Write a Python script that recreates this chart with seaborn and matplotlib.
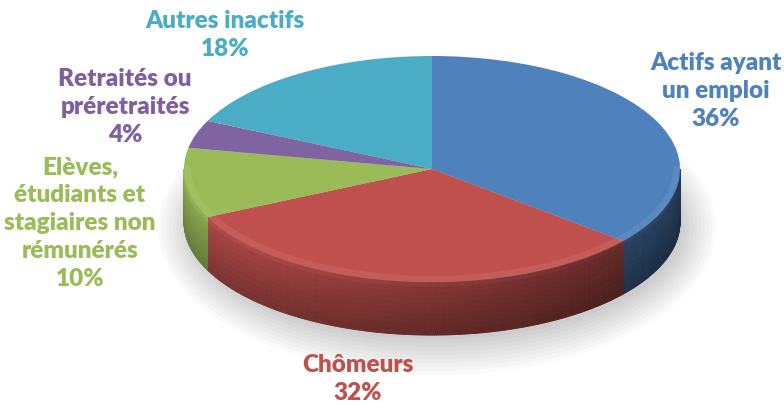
import numpy as np
import matplotlib
matplotlib.use("Agg")
import matplotlib.pyplot as plt
import seaborn as sns
from matplotlib.colors import to_rgb
from matplotlib.collections import PolyCollection
from matplotlib.patches import Ellipse

# data
labels = ["Actifs ayant\nun emploi", "Chômeurs",
          "Elèves,\nétudiants et\nstagiaires non\nrémunérés",
          "Retraités ou\npréretraités", "Autres inactifs"]
shares = [36, 32, 10, 4, 18]
colors = ["#4F81BD", "#C0504D", "#9BBB59", "#8064A2", "#4BACC6"]
text_colors = ["#4F81BD", "#C0504D", "#9BBB59", "#7F5FA0", "#4BACC6"]
# label centres in pixels (x, y from top)
label_pos = [(716, 91), (358, 379), (80, 223), (125, 107), (225, 35)]

W, H = 784, 406
CX, CY = 432, 170    # pie centre in px
RX, RY = 248, 113    # ellipse semi-axes in px
DEPTH = 0.47         # side height in y units

sns.set_theme(style="white")
plt.rcParams['font.family'] = ['Lato', 'DejaVu Sans']

fig = plt.figure(figsize=(W / 100, H / 100), dpi=100)
ax = fig.add_axes([0, 0, 1, 1])

# soft shadow under the pie
for k in range(10):
    ax.add_patch(Ellipse((0.02, -DEPTH - 0.05), 1.98 + 0.03 * k, 1.98 + 0.07 * k,
                         color="#000000", alpha=0.018, lw=0, zorder=0))

# top face
ax.pie(shares, colors=colors, startangle=90, counterclock=False, radius=1,
       wedgeprops=dict(linewidth=0, zorder=3))

# side wall, shaded strips for the front half
bounds = 90 - 360 * np.cumsum([0] + shares) / sum(shares)
polys, fcs = [], []
nv = 10
for i in range(len(shares)):
    lo, hi = max(bounds[i + 1], -180), min(bounds[i], 0)
    if lo >= hi:
        continue
    th = np.radians(np.linspace(lo, hi, int((hi - lo) * 2) + 2))
    base = np.array(to_rgb(colors[i]))
    for t0, t1 in zip(th[:-1], th[1:]):
        tm = 0.5 * (t0 + t1)
        h = 0.70 - 0.22 * np.cos(tm)
        for j in range(nv):
            f0, f1 = j / nv, (j + 1) / nv
            fm = (f0 + f1) / 2
            # rounded top edge: light near the rim, darker below
            v = 1.0 - 0.28 * fm if fm > 0.15 else 1.08 - 0.8 * fm
            polys.append([(np.cos(t0), np.sin(t0) - DEPTH * f0),
                          (np.cos(t1), np.sin(t1) - DEPTH * f0),
                          (np.cos(t1), np.sin(t1) - DEPTH * f1),
                          (np.cos(t0), np.sin(t0) - DEPTH * f1)])
            fcs.append(np.clip(base * h * v, 0, 1))
ax.add_collection(PolyCollection(polys, facecolors=fcs, edgecolors=fcs,
                                 linewidths=0.6, zorder=2))

# soft bevel highlight on the front rim of the top face
t = np.radians(np.linspace(-180, 0, 200))
ax.plot(0.985 * np.cos(t), 0.975 * np.sin(t), color="white", alpha=0.07, lw=5, zorder=4)

ax.set_aspect('auto')
ax.set_xlim(-CX / RX, (W - CX) / RX)
ax.set_ylim(-(H - CY) / RY, CY / RY)
ax.axis('off')

for lab, s, c, (x, y) in zip(labels, shares, text_colors, label_pos):
    fig.text(x / W, 1 - y / H, f"{lab}\n{s}%", color=c, fontsize=17.5,
             fontweight='heavy', ha='center', va='center',
             multialignment='center', linespacing=1.32)

fig.savefig("out.png", dpi=100, facecolor="white")
